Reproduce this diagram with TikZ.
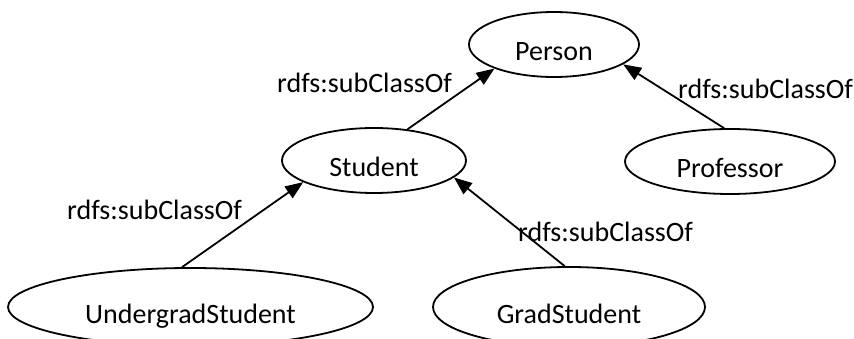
\documentclass[tikz,border=0pt]{standalone}
\usepackage{fontspec}
\setmainfont{Carlito}
\usetikzlibrary{shapes.geometric,arrows.meta}
\tikzset{
  cls/.style={ellipse, draw, line width=1.8pt, inner sep=0pt,
    text height=32pt, text depth=0pt, font=\fontsize{28}{33}\selectfont},
  rel/.style={line width=1.8pt, -{Triangle[length=18pt,width=14pt]}},
  rellabel/.style={anchor=base west, inner sep=0pt, font=\fontsize{28}{33}\selectfont}
}
\begin{document}
\begin{tikzpicture}[x=1pt,y=-1pt]
  \useasboundingbox (0,0) rectangle (854,339);
  \clip (0,0) rectangle (854,339);

  % class nodes
  \node[cls, minimum width=170pt, minimum height=65pt] (person)    at (554,44.5)  {Person};
  \node[cls, minimum width=184pt, minimum height=65pt] (student)   at (374,160.5) {Student};
  \node[cls, minimum width=210pt, minimum height=65pt] (professor) at (730,161.5) {Professor};
  \node[cls, minimum width=365pt, minimum height=78pt] (undergrad) at (190.5,307) {UndergradStudent};
  \node[cls, minimum width=272pt, minimum height=80pt] (grad)      at (569,307)   {GradStudent};

  % subclass relations
  \draw[rel] (student.43)    -- (person.202);
  \draw[rel] (professor.100) -- (person.-16);
  \draw[rel] (undergrad.102) -- (student.197.5);
  \draw[rel] (grad.96)       -- (student.-12);

  % relation labels
  \node[rellabel] (l1) at (277,93)  {rdfs:subClassOf};
  \node[rellabel] (l2) at (678,99)  {rdfs:subClassOf};
  \node[rellabel] (l3) at (67,219)  {rdfs:subClassOf};
  \node[rellabel] (l4) at (518,241) {rdfs:subClassOf};
\end{tikzpicture}
\end{document}
